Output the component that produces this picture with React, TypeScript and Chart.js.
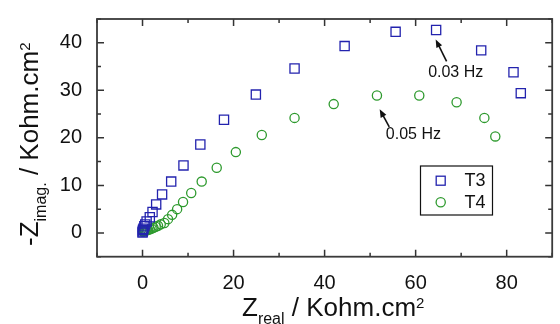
import { useEffect, useRef } from 'react';
import { Chart, registerables } from 'chart.js';

Chart.register(...registerables);

// ---- data (Kohm.cm2) ----
const seriesNames = ['T3', 'T4'];
const t3Real = [0.0, 0.05, 0.1, 0.2, 0.4, 0.6, 0.9, 1.6, 2.2, 3.0, 4.3, 6.3, 9.0, 12.7, 17.9, 24.9, 33.4, 44.4, 55.6, 64.5, 74.4, 81.5, 83.1];
const t3Imag = [0.1, 0.3, 0.6, 0.9, 1.4, 1.8, 2.4, 3.3, 4.4, 6.0, 8.1, 10.8, 14.2, 18.6, 23.8, 29.1, 34.6, 39.3, 42.3, 42.7, 38.4, 33.8, 29.4];
const t4Real = [0.1, 0.2, 0.35, 0.5, 0.7, 0.95, 1.25, 1.6, 2.0, 2.4, 2.9, 3.4, 4.0, 4.8, 5.6, 6.5, 7.6, 8.9, 10.7, 13.0, 16.3, 20.5, 26.2, 33.4, 42.0, 51.5, 60.8, 69.0, 75.1, 77.5];
const t4Imag = [0.3, 0.35, 0.4, 0.45, 0.5, 0.55, 0.65, 0.75, 0.9, 1.1, 1.3, 1.5, 1.8, 2.1, 2.9, 3.8, 5.0, 6.5, 8.4, 10.8, 13.7, 17.0, 20.6, 24.2, 27.1, 28.9, 28.9, 27.5, 24.2, 20.3];

const xTickValues = [0, 20, 40, 60, 80];
const xMinorValues = [-10, 10, 30, 50, 70, 90];
const yTickValues = [0, 10, 20, 30, 40];
const yMinorValues = [-5, 5, 15, 25, 35, 45];

const annotationLabels = ['0.03 Hz', '0.05 Hz'];
const annotationTextX = [68.8, 59.5];
const annotationTextY = [33.7, 20.7];
const arrowFromX = [66.8, 54.2];
const arrowFromY = [36.1, 22.3];
const arrowToX = [64.4, 52.1];
const arrowToY = [40.7, 26.0];

const T3_COLOR = '#2323ae';
const T4_COLOR = '#2e9a2e';
const FONT = 'Arial, "Liberation Sans", sans-serif';

type Seg = { text: string; size: number; dy: number };

function drawRich(ctx: CanvasRenderingContext2D, segs: Seg[]) {
  let cx = 0;
  for (const s of segs) {
    ctx.font = `${s.size}px ${FONT}`;
    ctx.fillText(s.text, cx, s.dy);
    cx += ctx.measureText(s.text).width;
  }
}

const decorPlugin = {
  id: 'decor',
  afterDraw(chart: any) {
    const { ctx, chartArea: a, scales } = chart;
    const xs = scales.x;
    const ys = scales.y;
    ctx.save();
    // ticks (inward)
    ctx.strokeStyle = '#333';
    ctx.lineWidth = 1.5;
    const tick = (v: number, len: number, horiz: boolean) => {
      ctx.beginPath();
      if (horiz) {
        const p = xs.getPixelForValue(v);
        ctx.moveTo(p, a.bottom); ctx.lineTo(p, a.bottom - len);
        ctx.moveTo(p, a.top); ctx.lineTo(p, a.top + len);
      } else {
        const p = ys.getPixelForValue(v);
        ctx.moveTo(a.left, p); ctx.lineTo(a.left + len, p);
        ctx.moveTo(a.right, p); ctx.lineTo(a.right - len, p);
      }
      ctx.stroke();
    };
    xTickValues.forEach((v) => tick(v, 7, true));
    xMinorValues.forEach((v) => tick(v, 4, true));
    yTickValues.forEach((v) => tick(v, 7, false));
    yMinorValues.forEach((v) => tick(v, 4, false));
    // frame
    ctx.lineWidth = 1.8;
    ctx.strokeStyle = '#3a3a3a';
    ctx.strokeRect(a.left, a.top, a.right - a.left, a.bottom - a.top);

    // annotations
    ctx.fillStyle = '#111';
    ctx.strokeStyle = '#111';
    ctx.font = `16px ${FONT}`;
    ctx.textAlign = 'center';
    ctx.textBaseline = 'middle';
    annotationLabels.forEach((lab, i) => {
      ctx.fillText(lab, xs.getPixelForValue(annotationTextX[i]), ys.getPixelForValue(annotationTextY[i]));
      const x1 = xs.getPixelForValue(arrowFromX[i]);
      const y1 = ys.getPixelForValue(arrowFromY[i]);
      const x2 = xs.getPixelForValue(arrowToX[i]);
      const y2 = ys.getPixelForValue(arrowToY[i]);
      const ang = Math.atan2(y2 - y1, x2 - x1);
      const hl = 8, hw = 3.2;
      ctx.lineWidth = 1.6;
      ctx.beginPath();
      ctx.moveTo(x1, y1);
      ctx.lineTo(x2 - Math.cos(ang) * hl * 0.8, y2 - Math.sin(ang) * hl * 0.8);
      ctx.stroke();
      ctx.beginPath();
      ctx.moveTo(x2, y2);
      ctx.lineTo(x2 - Math.cos(ang) * hl - Math.sin(ang) * hw, y2 - Math.sin(ang) * hl + Math.cos(ang) * hw);
      ctx.lineTo(x2 - Math.cos(ang) * hl + Math.sin(ang) * hw, y2 - Math.sin(ang) * hl - Math.cos(ang) * hw);
      ctx.closePath();
      ctx.fill();
    });

    // legend
    const lx = 420.5, ly = 166, lw = 72, lh = 49;
    ctx.fillStyle = '#fff';
    ctx.fillRect(lx, ly, lw, lh);
    ctx.strokeStyle = '#111';
    ctx.lineWidth = 1.2;
    ctx.strokeRect(lx, ly, lw, lh);
    ctx.lineWidth = 1.3;
    ctx.strokeStyle = T3_COLOR;
    ctx.strokeRect(440.7 - 4.5, 180.7 - 4.5, 9, 9);
    ctx.strokeStyle = T4_COLOR;
    ctx.beginPath();
    ctx.arc(440.7, 202.3, 4.6, 0, Math.PI * 2);
    ctx.stroke();
    ctx.fillStyle = '#111';
    ctx.font = `18px ${FONT}`;
    ctx.textAlign = 'left';
    ctx.textBaseline = 'middle';
    ctx.fillText(seriesNames[0], 464.5, 181);
    ctx.fillText(seriesNames[1], 464.5, 203);

    // axis titles
    ctx.fillStyle = '#111';
    ctx.textAlign = 'left';
    ctx.textBaseline = 'alphabetic';
    ctx.save();
    ctx.translate(242, 315.5);
    drawRich(ctx, [
      { text: 'Z', size: 26, dy: 0 },
      { text: 'real', size: 16, dy: 8 },
      { text: ' / Kohm.cm', size: 26, dy: 0 },
      { text: '2', size: 15, dy: -8 },
    ]);
    ctx.restore();
    ctx.save();
    ctx.translate(38, 246);
    ctx.rotate(-Math.PI / 2);
    drawRich(ctx, [
      { text: '-Z', size: 26, dy: 0 },
      { text: 'imag.', size: 16, dy: 8 },
      { text: ' / Kohm.cm', size: 26, dy: 0 },
      { text: '2', size: 15, dy: -8 },
    ]);
    ctx.restore();
    ctx.restore();
  },
};

export default function App() {
  const ref = useRef<HTMLCanvasElement | null>(null);
  useEffect(() => {
    if (!ref.current) return;
    const chart = new Chart(ref.current, {
      type: 'scatter',
      data: {
        datasets: [
          {
            label: seriesNames[0],
            data: t3Real.map((v, i) => ({ x: v, y: t3Imag[i] })),
            pointStyle: 'rect',
            pointRadius: 6.5,
            borderColor: T3_COLOR,
            backgroundColor: 'rgba(0,0,0,0)',
            borderWidth: 1.3,
            showLine: false,
          },
          {
            label: seriesNames[1],
            data: t4Real.map((v, i) => ({ x: v, y: t4Imag[i] })),
            pointStyle: 'circle',
            pointRadius: 4.6,
            borderColor: T4_COLOR,
            backgroundColor: 'rgba(0,0,0,0)',
            borderWidth: 1.3,
            showLine: false,
          },
        ],
      },
      options: {
        responsive: false,
        animation: false,
        devicePixelRatio: 1,
        layout: { padding: { top: 15, right: 1.3, left: 0, bottom: 0 } },
        plugins: { legend: { display: false }, tooltip: { enabled: false } },
        scales: {
          x: {
            type: 'linear',
            min: -10,
            max: 90,
            grid: { display: false },
            border: { display: false },
            afterBuildTicks: (s: any) => { s.ticks = xTickValues.map((v) => ({ value: v })); },
            afterFit: (s: any) => { s.height = 67.3; },
            ticks: { padding: 7, color: '#111', font: { family: FONT, size: 20 } },
          },
          y: {
            type: 'linear',
            min: -5,
            max: 45,
            grid: { display: false },
            border: { display: false },
            afterBuildTicks: (s: any) => { s.ticks = yTickValues.map((v) => ({ value: v })); },
            afterFit: (s: any) => { s.width = 97; },
            ticks: { padding: 7, color: '#111', font: { family: FONT, size: 20 } },
          },
        },
      },
      plugins: [decorPlugin],
    } as any);
    return () => chart.destroy();
  }, []);
  return (
    <div style={{ position: 'fixed', left: 0, top: 0, width: 560, height: 324, background: '#fff' }}>
      <canvas ref={ref} width={560} height={324} />
    </div>
  );
}
